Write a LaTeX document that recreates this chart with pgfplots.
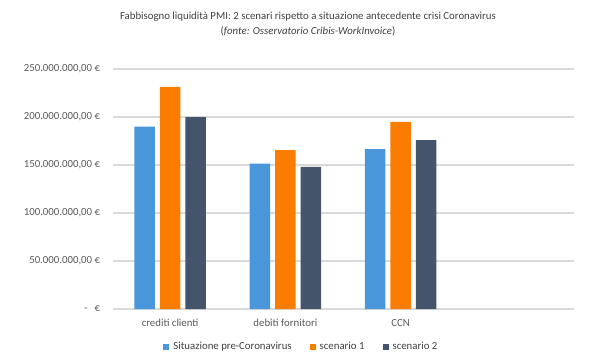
\documentclass[border=0pt]{standalone}
\usepackage{fontspec}
\setmainfont{Carlito}
\usepackage{pgfplots}
\pgfplotsset{compat=1.18}
\definecolor{cblue}{HTML}{4A96DB}
\definecolor{corange}{HTML}{FA7D00}
\definecolor{cdark}{HTML}{44546A}
\definecolor{tgray}{HTML}{404040}
\definecolor{lgray}{HTML}{595959}
\definecolor{ggray}{HTML}{D9D9D9}
\begin{document}
\fontsize{5.4}{6.5}\selectfont
\begin{tikzpicture}
\path[use as bounding box] (0pt,0pt) rectangle (300pt,180pt);
\node[text=tgray, inner sep=0pt] at (154pt,171.5pt) {Fabbisogno liquidità PMI: 2 scenari rispetto a situazione antecedente crisi Coronavirus};
\node[text=tgray, inner sep=0pt] at (154pt,164.5pt) {(\textit{fonte: Osservatorio Cribis-WorkInvoice})};
\begin{axis}[
  at={(56.25pt,25.5pt)}, anchor=south west,
  scale only axis, width=230.5pt, height=120pt,
  xmin=-0.5, xmax=3.5, ymin=0, ymax=250,
  axis x line=bottom, axis y line=left,
  axis line style={draw=none},
  major tick length=0pt,
  xtick={0,1,2}, xticklabels={crediti clienti, debiti fornitori, CCN},
  ytick={0,50,100,150,200,250},
  yticklabels={{-\hspace{3.5pt}€}, {50.000.000,00 €}, {100.000.000,00 €}, {150.000.000,00 €}, {200.000.000,00 €}, {250.000.000,00 €}},
  ymajorgrids, grid style={ggray, line width=0.6pt},
  ticklabel style={font=\fontsize{5.4}{6.5}\selectfont, text=lgray},
  yticklabel style={inner sep=0pt, xshift=-6pt},
  xticklabel style={inner sep=0pt, yshift=-5pt},
  /pgf/number format/assume math mode=true,
  legend style={at={(0.412,-0.158)}, anchor=center, draw=none, fill=none,
    legend columns=3, font=\fontsize{5.4}{6.5}\selectfont, text=tgray,
    /tikz/every even column/.append style={column sep=7pt},
    legend cell align=left, inner sep=0pt},
]
\addplot[ybar, bar width=0.178, bar shift=-0.222, fill=cblue, draw=none,
  legend image code/.code={\fill[cblue] (0pt,-1.5pt) rectangle (3pt,1.5pt);}]
  coordinates {(0,190) (1,151.5) (2,166.5)};
\addlegendentry{Situazione pre-Coronavirus}
\addplot[ybar, bar width=0.178, bar shift=0, fill=corange, draw=none,
  legend image code/.code={\fill[corange] (0pt,-1.5pt) rectangle (3pt,1.5pt);}]
  coordinates {(0,231.5) (1,165.5) (2,195)};
\addlegendentry{scenario 1}
\addplot[ybar, bar width=0.178, bar shift=0.222, fill=cdark, draw=none,
  legend image code/.code={\fill[cdark] (0pt,-1.5pt) rectangle (3pt,1.5pt);}]
  coordinates {(0,200) (1,148) (2,176)};
\addlegendentry{scenario 2}
\end{axis}
\end{tikzpicture}
\end{document}
